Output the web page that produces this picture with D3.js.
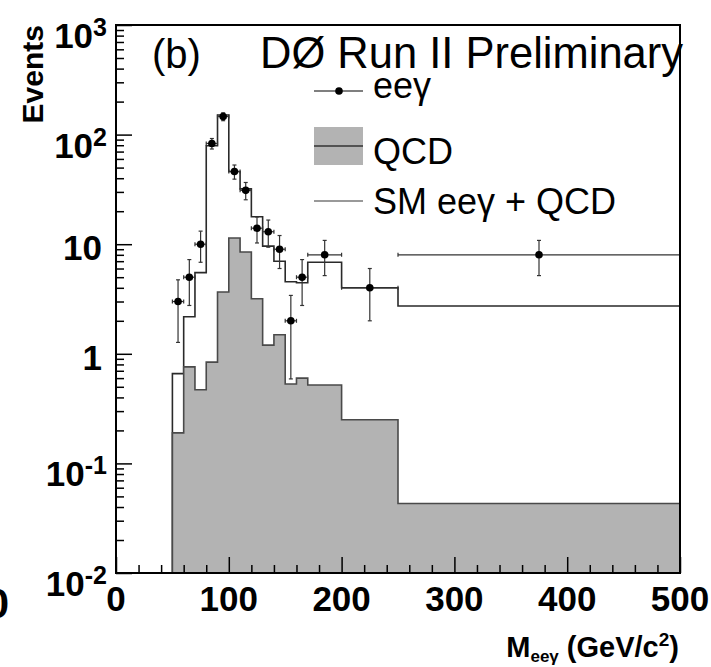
<!DOCTYPE html>
<html>
<head>
<meta charset="utf-8">
<script src="https://cdn.jsdelivr.net/npm/d3@7"></script>
<style>
  body { margin: 0; background: #fff; }
  text { font-family: "Liberation Sans", Arial, sans-serif; }
</style>
</head>
<body>
<div id="plot"></div>
<script>
// bin edges (GeV/c^2)
const binEdges = [50, 60, 70, 80, 90, 100, 110, 120, 130, 140, 150, 160, 170, 200, 250, 500];
// SM eeg + QCD prediction per bin
const smValues = [0.66, 2.18, 5.5, 79, 151, 46, 32, 17.8, 9.6, 7.0, 4.55, 4.45, 6.84, 4.0, 2.73];
// QCD background per bin
const qcdValues = [0.19, 0.76, 0.47, 0.84, 3.66, 11.4, 8.5, 3.18, 1.2, 1.49, 0.53, 0.6, 0.52, 0.25, 0.043];
// data points
const dataLow = [50, 60, 70, 80, 90, 100, 110, 120, 130, 140, 150, 160, 170, 200, 250];
const dataHigh = [60, 70, 80, 90, 100, 110, 120, 130, 140, 150, 160, 170, 200, 250, 500];
const dataX = [55, 65, 75, 85, 95, 105, 115, 125, 135, 145, 155, 165, 185, 225, 375];
const dataY = [3, 5, 10, 83, 146, 46, 31, 14, 13, 9, 2, 5, 8, 4, 8];
const dataErr = [1.73, 2.24, 3.16, 9.11, 12.08, 6.78, 5.57, 3.74, 3.61, 3, 1.41, 2.24, 2.83, 2, 2.83];
// tick labels
const xTicks = [0, 100, 200, 300, 400, 500];
const yTicks = [0.01, 0.1, 1, 10, 100, 1000];
const yTickBase = ["10", "10", "1", "10", "10", "10"];
const yTickExp = ["-2", "-1", "", "", "2", "3"];

const width = 711, height = 667;
const pLeft = 116, pRight = 680, pTop = 25, pBottom = 573;

const svg = d3.select("div#plot")
  .append("svg")
    .attr("width", width)
    .attr("height", height);

const x = d3.scaleLinear().domain([0, 500]).range([pLeft, pRight]);
const y = d3.scaleLog().domain([0.01, 1000]).range([pBottom, pTop]);

svg.append("clipPath").attr("id", "clip")
  .append("rect")
    .attr("x", pLeft).attr("y", pTop)
    .attr("width", pRight - pLeft).attr("height", pBottom - pTop);

const plot = svg.append("g").attr("clip-path", "url(#clip)");

// turn bins into step points
function steps(values) {
  const pts = values.map((v, i) => [binEdges[i], v]);
  pts.push([binEdges[binEdges.length - 1], values[values.length - 1]]);
  return pts;
}

const stepLine = d3.line()
  .x(d => x(d[0]))
  .y(d => y(d[1]))
  .curve(d3.curveStepAfter);

// SM + QCD outline, starting from the bottom edge
const smPath = "M" + x(binEdges[0]) + "," + y(0.01) + stepLine(steps(smValues)).replace(/^M/, "L");
plot.append("path")
  .attr("d", smPath)
  .attr("fill", "none")
  .attr("stroke", "#2a2a2a")
  .attr("stroke-width", 1.6);

// QCD filled
const qcdArea = d3.area()
  .x(d => x(d[0]))
  .y0(y(0.01))
  .y1(d => y(d[1]))
  .curve(d3.curveStepAfter);

plot.append("path")
  .attr("d", qcdArea(steps(qcdValues)))
  .attr("fill", "#b3b3b3")
  .attr("stroke", "none");

const qcdPath = "M" + x(binEdges[0]) + "," + y(0.01) + stepLine(steps(qcdValues)).replace(/^M/, "L");
plot.append("path")
  .attr("d", qcdPath)
  .attr("fill", "none")
  .attr("stroke", "#4a4a4a")
  .attr("stroke-width", 1.6);

// data with error bars
const pts = dataX.map((d, i) => ({
  x: d, y: dataY[i], lo: dataLow[i], hi: dataHigh[i], e: dataErr[i]
}));

const eb = plot.append("g")
  .attr("stroke", "#333")
  .attr("stroke-width", 1.2);

pts.forEach(function(p) {
  const cx = x(p.x), cy = y(p.y);
  const y1 = y(p.y + p.e), y2 = y(p.y - p.e);
  eb.append("line").attr("x1", cx).attr("x2", cx).attr("y1", y1).attr("y2", y2);
  eb.append("line").attr("x1", cx - 2).attr("x2", cx + 2).attr("y1", y1).attr("y2", y1);
  eb.append("line").attr("x1", cx - 2).attr("x2", cx + 2).attr("y1", y2).attr("y2", y2);
  const xa = x(p.lo), xb = x(p.hi);
  eb.append("line").attr("x1", xa).attr("x2", xb).attr("y1", cy).attr("y2", cy);
  eb.append("line").attr("x1", xa).attr("x2", xa).attr("y1", cy - 2).attr("y2", cy + 2);
  eb.append("line").attr("x1", xb).attr("x2", xb).attr("y1", cy - 2).attr("y2", cy + 2);
});

plot.selectAll("circle.pt")
  .data(pts)
  .join("circle")
    .attr("class", "pt")
    .attr("cx", d => x(d.x))
    .attr("cy", d => y(d.y))
    .attr("r", 3.8)
    .attr("fill", "#000");

// axes ticks (inward)
const yMinor = [];
for (let dec = -2; dec < 3; dec++) {
  for (let k = 2; k <= 9; k++) yMinor.push(k * Math.pow(10, dec));
}
const xMinor = d3.range(20, 500, 20).filter(v => v % 100 !== 0);

function tickAxis(axis) {
  return function(g) {
    g.call(axis);
    g.select(".domain").remove();
    g.selectAll("text").remove();
    g.selectAll("line").attr("stroke", "#000").attr("stroke-width", 1.5);
  };
}

svg.append("g").attr("transform", `translate(${pLeft},0)`)
  .call(tickAxis(d3.axisLeft(y).tickValues(yTicks).tickSizeInner(-16).tickSizeOuter(0)));
svg.append("g").attr("transform", `translate(${pLeft},0)`)
  .call(tickAxis(d3.axisLeft(y).tickValues(yMinor).tickSizeInner(-8).tickSizeOuter(0)));
svg.append("g").attr("transform", `translate(0,${pBottom})`)
  .call(tickAxis(d3.axisBottom(x).tickValues(xTicks).tickSizeInner(-16).tickSizeOuter(0)));
svg.append("g").attr("transform", `translate(0,${pBottom})`)
  .call(tickAxis(d3.axisBottom(x).tickValues(xMinor).tickSizeInner(-8).tickSizeOuter(0)));

// frame
svg.append("rect")
  .attr("x", pLeft).attr("y", pTop)
  .attr("width", pRight - pLeft).attr("height", pBottom - pTop)
  .attr("fill", "none")
  .attr("stroke", "#000")
  .attr("stroke-width", 2);

// y tick labels
yTicks.forEach(function(v, i) {
  const t = svg.append("text")
    .attr("text-anchor", "end")
    .attr("font-weight", "bold")
    .attr("font-size", 35);
  if (yTickExp[i]) {
    t.attr("x", 107).attr("y", y(v) + 23);
    t.append("tspan").text(yTickBase[i]);
    t.append("tspan").attr("font-size", 25).attr("dy", -12).text(yTickExp[i]);
  } else {
    t.attr("x", 102).attr("y", y(v) + 16).text(yTickBase[i]);
  }
});

// x tick labels
svg.selectAll("text.xl")
  .data(xTicks)
  .join("text")
    .attr("class", "xl")
    .attr("x", d => x(d))
    .attr("y", 611)
    .attr("text-anchor", "middle")
    .attr("font-weight", "bold")
    .attr("font-size", 35)
    .text(d => d);

// cut-off label from neighbouring panel
svg.append("text")
  .attr("x", 9).attr("y", 618)
  .attr("text-anchor", "end")
  .attr("font-weight", "bold")
  .attr("font-size", 42)
  .text("0");

// axis titles
const xt = svg.append("text")
  .attr("x", 679).attr("y", 657)
  .attr("text-anchor", "end")
  .attr("font-weight", "bold")
  .attr("font-size", 29);
xt.append("tspan").text("M");
xt.append("tspan").attr("font-size", 17).attr("dy", 5).text("eeγ");
xt.append("tspan").attr("dy", -5).text(" (GeV/c");
xt.append("tspan").attr("font-size", 19).attr("dy", -11).text("2");
xt.append("tspan").attr("dy", 11).text(")");

svg.append("text")
  .attr("transform", "translate(43,25) rotate(-90)")
  .attr("text-anchor", "end")
  .attr("font-weight", "bold")
  .attr("font-size", 30)
  .text("Events");

// labels inside the frame
svg.append("text")
  .attr("x", 152).attr("y", 68)
  .attr("font-size", 40)
  .text("(b)");

svg.append("text")
  .attr("x", 260).attr("y", 68)
  .attr("font-size", 43.5)
  .text("DØ Run II Preliminary");

// legend
const lg = svg.append("g");
lg.append("line").attr("x1", 314).attr("x2", 363).attr("y1", 91).attr("y2", 91)
  .attr("stroke", "#000").attr("stroke-width", 1.2);
lg.append("circle").attr("cx", 339).attr("cy", 91).attr("r", 3.8).attr("fill", "#000");
lg.append("text").attr("x", 373).attr("y", 98).attr("font-size", 36).text("eeγ");

lg.append("rect").attr("x", 314).attr("y", 127).attr("width", 49).attr("height", 38)
  .attr("fill", "#b3b3b3");
lg.append("line").attr("x1", 314).attr("x2", 363).attr("y1", 146).attr("y2", 146)
  .attr("stroke", "#333").attr("stroke-width", 1.6);
lg.append("text").attr("x", 373).attr("y", 164).attr("font-size", 36).text("QCD");

lg.append("line").attr("x1", 314).attr("x2", 363).attr("y1", 201).attr("y2", 201)
  .attr("stroke", "#777").attr("stroke-width", 1.6);
lg.append("text").attr("x", 373).attr("y", 214).attr("font-size", 36).text("SM eeγ + QCD");
</script>
</body>
</html>
